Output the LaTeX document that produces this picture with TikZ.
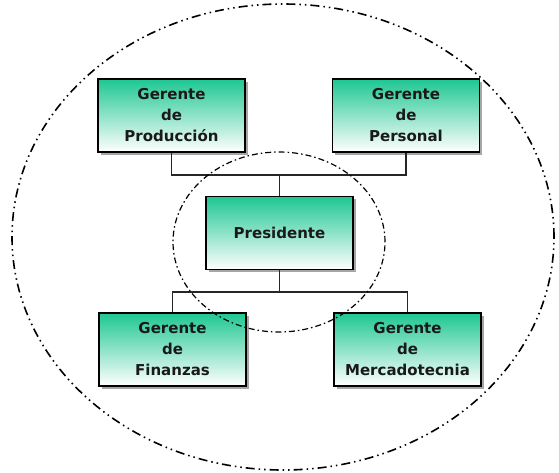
\documentclass[tikz,border=0pt]{standalone}
\usepackage{fontspec}
\setmainfont{DejaVu Sans}
\usetikzlibrary{shadows}
\definecolor{boxgreen}{RGB}{30,199,146}

\begin{document}
\begin{tikzpicture}[x=1pt,y=-1pt,semithick]
  \tikzstyle{puesto}=[draw=black,line width=1.2pt,top color=boxgreen,bottom color=white,
    minimum width=147pt,minimum height=73pt,inner sep=0pt,align=center,text=black!90,
    font=\fontsize{15}{21}\selectfont\bfseries,
    drop shadow={shadow xshift=2.5pt,shadow yshift=-2.5pt,fill=black!35,opacity=1}]
  \tikzstyle{enlace}=[draw=black!85,line width=1.1pt]
  \tikzstyle{frontera}=[black,line width=1.6pt,
    dash pattern=on 9pt off 4pt on 1.5pt off 4pt on 1.5pt off 4pt]
  \tikzstyle{nucleo}=[black,line width=1.2pt,dash pattern=on 6pt off 3pt on 1.5pt off 3pt]

  \useasboundingbox (0,0) rectangle (559,472);

  \node[puesto] (pres) at (279.5,233)   {Presidente};
  \node[puesto] (prod) at (171.5,115.5) {Gerente\\de\\Producción};
  \node[puesto] (pers) at (406,115.5)   {Gerente\\de\\Personal};
  \node[puesto] (fin)  at (172.5,349.5) {Gerente\\de\\Finanzas};
  \node[puesto] (merc) at (407.5,349.5) {Gerente\\de\\Mercadotecnia};

  \coordinate (arriba) at (279.5,175);
  \coordinate (abajo)  at (279.5,292);

  \path[enlace] (prod.south) |- (arriba) -| (pers.south)
                (arriba) -- (pres.north)
                (pres.south) -- (abajo)
                (fin.north) |- (abajo) -| (merc.north);

  \draw[nucleo]   (279,242) ellipse [x radius=106pt, y radius=90pt];
  \draw[frontera] (283,237) ellipse [x radius=271pt, y radius=233pt];
\end{tikzpicture}
\end{document}
